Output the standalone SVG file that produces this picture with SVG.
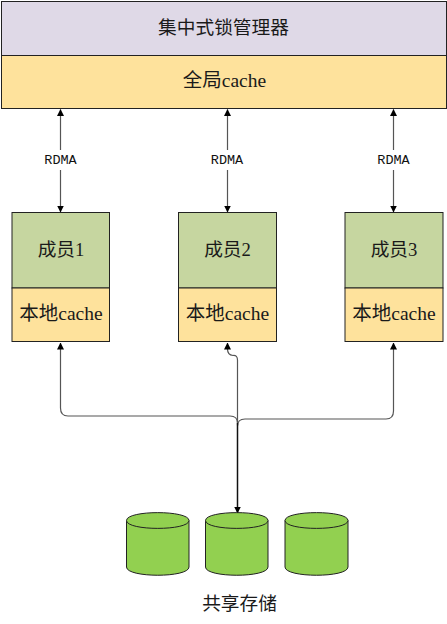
<svg xmlns="http://www.w3.org/2000/svg" width="447" height="624" viewBox="0 0 447 624">
<style>
.box{stroke:#222;stroke-width:1}
.lock{fill:#dfd9e7}
.cache{fill:#fee29c}
.member{fill:#c6d6a0}
.db{fill:#92d050;stroke:#222;stroke-width:1}
.lbl{font-family:"Liberation Serif","Noto Sans CJK SC",serif;font-size:18.7px;fill:#1a1a1a;text-anchor:middle}
.wide{font-size:19.5px}
.rdma{font-family:"Liberation Mono","Noto Sans CJK SC",monospace;font-size:13.5px;fill:#111;text-anchor:middle}
.c{fill:none;stroke:#555;stroke-width:1.2}
.d{fill:none;stroke:#111;stroke-width:1.5}
.ah{fill:#000}
</style>
<defs>
<marker id="a" markerWidth="7" markerHeight="8" refX="6.5" refY="4" orient="auto-start-reverse" markerUnits="userSpaceOnUse"><path class="ah" d="M0 0.5L7 4L0 7.5Z"/></marker>
</defs>
<rect width="447" height="624" fill="#fff"/>
<g id="connectors">
<path class="c" d="M60.5 150V109.5" marker-end="url(#a)"/>
<path class="c" d="M60.5 170V212" marker-end="url(#a)"/>
<path class="c" d="M227.5 150V109.5" marker-end="url(#a)"/>
<path class="c" d="M227.5 170V212" marker-end="url(#a)"/>
<path class="c" d="M393.5 150V109.5" marker-end="url(#a)"/>
<path class="c" d="M393.5 170V212" marker-end="url(#a)"/>
<path class="c" d="M237.5 423Q237.5 416 230 416H68Q60.5 416 60.5 408V343" marker-end="url(#a)"/>
<path class="c" d="M237.5 425V360Q237.5 355 233 355.5Q227.5 355 227.5 349V343" marker-end="url(#a)"/>
<path class="c" d="M237.5 426Q237.5 419 245 419H386Q393.5 419 393.5 411V343" marker-end="url(#a)"/>
<path class="d" d="M237.5 423V513" marker-end="url(#a)"/>
</g>
<g id="lock-manager">
<rect class="box lock" x="1.5" y="1.5" width="445" height="54"/>
<text class="lbl" x="223.5" y="33.500">集中式锁管理器</text>
</g>
<g id="global-cache">
<rect class="box cache" x="1.5" y="55.5" width="445" height="53"/>
<text class="lbl wide" x="224.500" y="87">全局cache</text>
</g>
<g id="rdma-1"><text class="rdma" x="60.5" y="164">RDMA</text></g>
<g id="rdma-2"><text class="rdma" x="227" y="164">RDMA</text></g>
<g id="rdma-3"><text class="rdma" x="393.5" y="164">RDMA</text></g>
<g id="member-1">
<rect class="box member" x="12" y="212.5" width="97.5" height="75.5"/>
<rect class="box cache" x="12" y="288" width="97.5" height="53.5"/>
<text class="lbl" x="61" y="256">成员1</text>
<text class="lbl wide" x="61" y="320">本地cache</text>
</g>
<g id="member-2">
<rect class="box member" x="178.5" y="212.5" width="98" height="75.5"/>
<rect class="box cache" x="178.5" y="288" width="98" height="53.5"/>
<text class="lbl" x="227.5" y="256">成员2</text>
<text class="lbl wide" x="227.5" y="320">本地cache</text>
</g>
<g id="member-3">
<rect class="box member" x="345" y="212.5" width="98" height="75.5"/>
<rect class="box cache" x="345" y="288" width="98" height="53.5"/>
<text class="lbl" x="394" y="256">成员3</text>
<text class="lbl wide" x="394" y="320">本地cache</text>
</g>
<g id="db-1">
<path class="db" d="M126.5 520.5C126.5 510 189 510 189 520.5V567C189 578 126.5 578 126.5 567Z"/>
<path class="db" d="M126.5 520.5C126.5 531 189 531 189 520.5" fill="none"/>
</g>
<g id="db-2">
<path class="db" d="M205.5 520.5C205.5 510 268 510 268 520.5V567C268 578 205.5 578 205.5 567Z"/>
<path class="db" d="M205.5 520.5C205.5 531 268 531 268 520.5" fill="none"/>
</g>
<g id="db-3">
<path class="db" d="M285 520.5C285 510 348 510 348 520.5V567C348 578 285 578 285 567Z"/>
<path class="db" d="M285 520.5C285 531 348 531 348 520.5" fill="none"/>
</g>
<g id="storage-label"><text class="lbl" x="239.5" y="610">共享存储</text></g>
</svg>
